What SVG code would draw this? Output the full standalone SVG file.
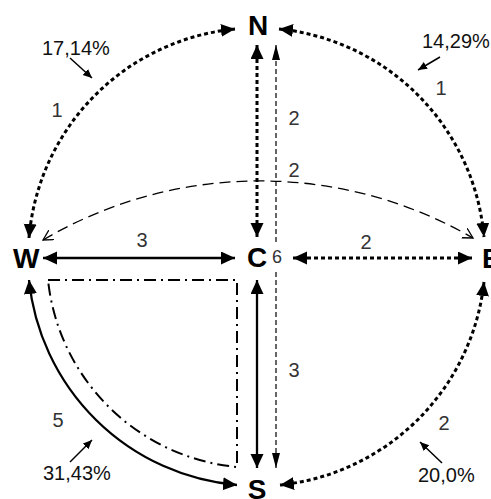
<svg xmlns="http://www.w3.org/2000/svg" width="491" height="499" viewBox="0 0 491 499">
<defs>
<marker id="ah" markerUnits="userSpaceOnUse" markerWidth="16" markerHeight="14" refX="14" refY="6.5" orient="auto-start-reverse"><path d="M0,0 L14,6.5 L0,13 Z" fill="#000"/></marker>
<marker id="ahThin" markerUnits="userSpaceOnUse" markerWidth="16" markerHeight="10" refX="15" refY="4" orient="auto-start-reverse"><path d="M0,0 L15,4 L0,8 Z" fill="#000"/></marker>
<marker id="ahOpen" markerUnits="userSpaceOnUse" markerWidth="12" markerHeight="12" refX="10" refY="5.5" orient="auto-start-reverse"><path d="M0,0 L10,5.5 L0,11" fill="none" stroke="#000" stroke-width="1.3"/></marker>
<marker id="ahSmall" markerUnits="userSpaceOnUse" markerWidth="10" markerHeight="10" refX="9" refY="4" orient="auto"><path d="M0,0 L9,4 L0,8 Z" fill="#000"/></marker>
</defs>
<style>
.node{font-family:"Liberation Sans",Arial,sans-serif;font-weight:bold;font-size:28px;fill:#000}
.num{font-family:"Liberation Sans",Arial,sans-serif;font-size:20px;fill:#333}
.pct{font-family:"Liberation Sans",Arial,sans-serif;font-size:20px;fill:#111}
.dot{fill:none;stroke:#000;stroke-width:3;stroke-dasharray:4 3}
.solid{fill:none;stroke:#000;stroke-width:2.3}
.thin{fill:none;stroke:#000;stroke-width:1.2;stroke-dasharray:5 3}
.long{fill:none;stroke:#000;stroke-width:1.3;stroke-dasharray:11 6}
.dashdot{fill:none;stroke:#000;stroke-width:2;stroke-dasharray:12 5 2 5}
.ptr{fill:none;stroke:#000;stroke-width:1.5}
</style>
<g id="connectors">
<path class="dot" d="M29,238 A229,229 0 0,1 235,29" marker-start="url(#ah)" marker-end="url(#ah)"/>
<path class="dot" d="M279,29 A229,229 0 0,1 484,237" marker-start="url(#ah)" marker-end="url(#ah)"/>
<path class="dot" d="M484,282 A229,229 0 0,1 280,485" marker-start="url(#ah)" marker-end="url(#ah)"/>
<path class="solid" d="M29,280 A229,229 0 0,0 237,485" marker-start="url(#ah)" marker-end="url(#ah)"/>
<path class="long" d="M43,240 A427,427 0 0,1 473,238" marker-start="url(#ahOpen)" marker-end="url(#ahOpen)"/>
<path class="dot" d="M257,45 L257,237" marker-start="url(#ah)" marker-end="url(#ah)"/>
<path class="thin" d="M276,242 L276,45" marker-end="url(#ahThin)"/>
<path class="thin" d="M276,272 L276,468" marker-end="url(#ahThin)"/>
<path class="solid" d="M43,258 L235,258" marker-start="url(#ah)" marker-end="url(#ah)"/>
<path class="dot" d="M293,258 L472,258" marker-start="url(#ah)" marker-end="url(#ah)"/>
<path class="solid" d="M257,280 L257,468" marker-start="url(#ah)" marker-end="url(#ah)"/>
<path class="dashdot" d="M48,280 L237,280 L237,467 A210,210 0 0,1 48,280"/>
<path class="ptr" d="M70,58 L92,78" marker-end="url(#ahSmall)"/>
<path class="ptr" d="M440,57 L418,70" marker-end="url(#ahSmall)"/>
<path class="ptr" d="M70,462 L92,440" marker-end="url(#ahSmall)"/>
<path class="ptr" d="M442,463 L420,442" marker-end="url(#ahSmall)"/>
</g>
<g id="node-N"><text class="node" x="258" y="35" text-anchor="middle">N</text></g>
<g id="node-W"><text class="node" x="13" y="268">W</text></g>
<g id="node-C"><text class="node" x="247" y="267">C</text><text class="num" x="272" y="263" style="font-size:18px">6</text></g>
<g id="node-E"><text class="node" x="482" y="268">E</text></g>
<g id="node-S"><text class="node" x="257" y="499" text-anchor="middle">S</text></g>
<g id="labels">
<text class="pct" x="42" y="55">17,14%</text>
<text class="pct" x="422" y="48">14,29%</text>
<text class="pct" x="43" y="480">31,43%</text>
<text class="pct" x="418" y="482">20,0%</text>
<text class="num" x="57" y="117" text-anchor="middle">1</text>
<text class="num" x="441" y="95" text-anchor="middle">1</text>
<text class="num" x="294" y="125" text-anchor="middle">2</text>
<text class="num" x="294" y="177" text-anchor="middle">2</text>
<text class="num" x="142" y="247" text-anchor="middle">3</text>
<text class="num" x="366" y="249" text-anchor="middle">2</text>
<text class="num" x="294" y="377" text-anchor="middle">3</text>
<text class="num" x="444" y="430" text-anchor="middle">2</text>
<text class="num" x="58" y="427" text-anchor="middle">5</text>
</g>
</svg>
